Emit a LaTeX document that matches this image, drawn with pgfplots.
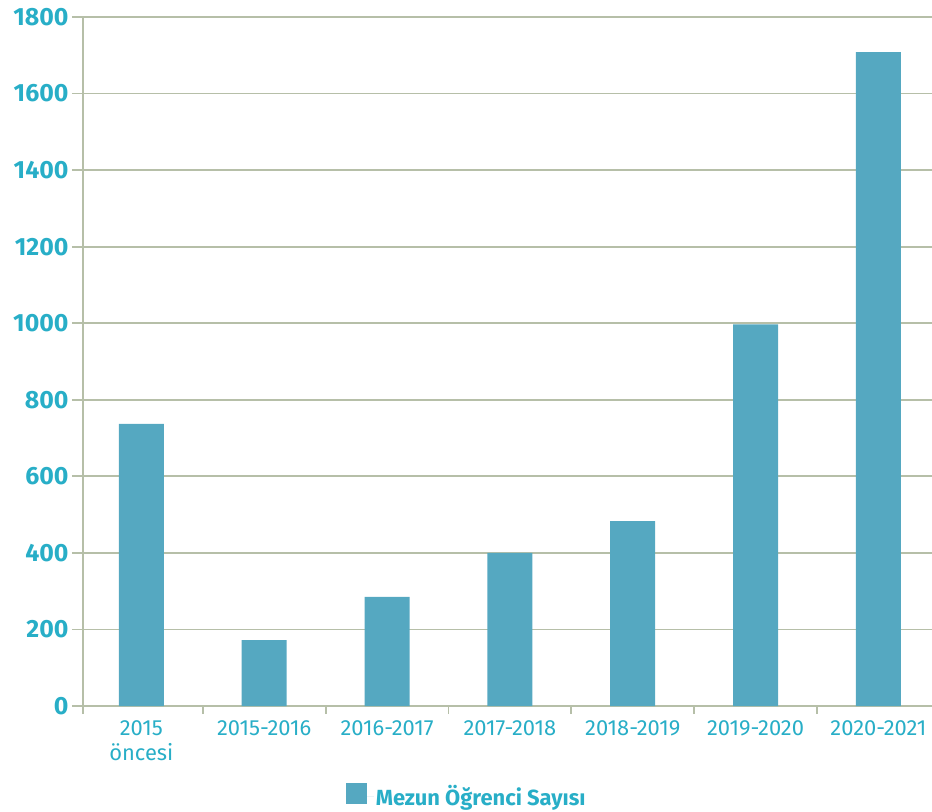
\documentclass[border=0pt]{standalone}
\usepackage{pgfplots}
\pgfplotsset{compat=1.18}
\usepackage{fontspec}
\setmainfont{Fira Sans}
\definecolor{barc}{RGB}{85,168,193}
\definecolor{txtc}{RGB}{40,174,199}
\definecolor{gridc}{RGB}{182,191,168}
\begin{document}
\begin{tikzpicture}
\begin{axis}[
  scale only axis, width=849bp, height=689bp,
  xmin=-0.475, xmax=6.436, ymin=0, ymax=1800,
  ybar, bar width=45bp,
  ytick={0,200,...,1800},
  xtick={0,...,6},
  xticklabels={{2015\\öncesi},2015-2016,2016-2017,2017-2018,2018-2019,2019-2020,2020-2021},
  axis x line=bottom, axis y line=left,
  axis line style={-, draw=gridc, line width=1.8bp},
  ymajorgrids, grid style={draw=gridc, line width=1.8bp},
  tick align=outside,
  major tick length=11bp,
  ytick style={draw=gridc, line width=1.8bp},
  xtick style={draw=none},
  extra x ticks={-0.475,0.5,1.5,2.5,3.5,4.5,5.5},
  extra x tick labels={},
  extra x tick style={grid=none, major tick length=8bp, xtick style={draw=gridc, line width=1.8bp}},
  /pgf/number format/1000 sep={},
  /pgf/number format/assume math mode=true,
  yticklabel style={font=\bfseries\fontsize{25}{28}\selectfont, text=txtc},
  xticklabel style={font=\fontsize{22}{25}\selectfont, text=txtc, align=center},
  legend style={at={(0.452,-0.131)}, anchor=center, draw=none, fill=none, inner sep=0pt,
    font=\bfseries\fontsize{22}{26}\selectfont, text=txtc},
  legend image code/.code={\fill[barc] (0bp,-7.5bp) rectangle (21bp,13.5bp); \path (0bp,0bp) -- (28bp,0bp);},
]
\coordinate (o) at (rel axis cs:0,0);
\addplot[fill=barc, draw=none] coordinates {(0,737) (1,172) (2,285) (3,400) (4,483) (5,997) (6,1708)};
\addlegendentry{Mezun Öğrenci Sayısı}
\end{axis}
\pgfresetboundingbox
\path[use as bounding box] (o) ++(-83bp,-106bp) rectangle ++(932bp,812bp);
\end{tikzpicture}
\end{document}
